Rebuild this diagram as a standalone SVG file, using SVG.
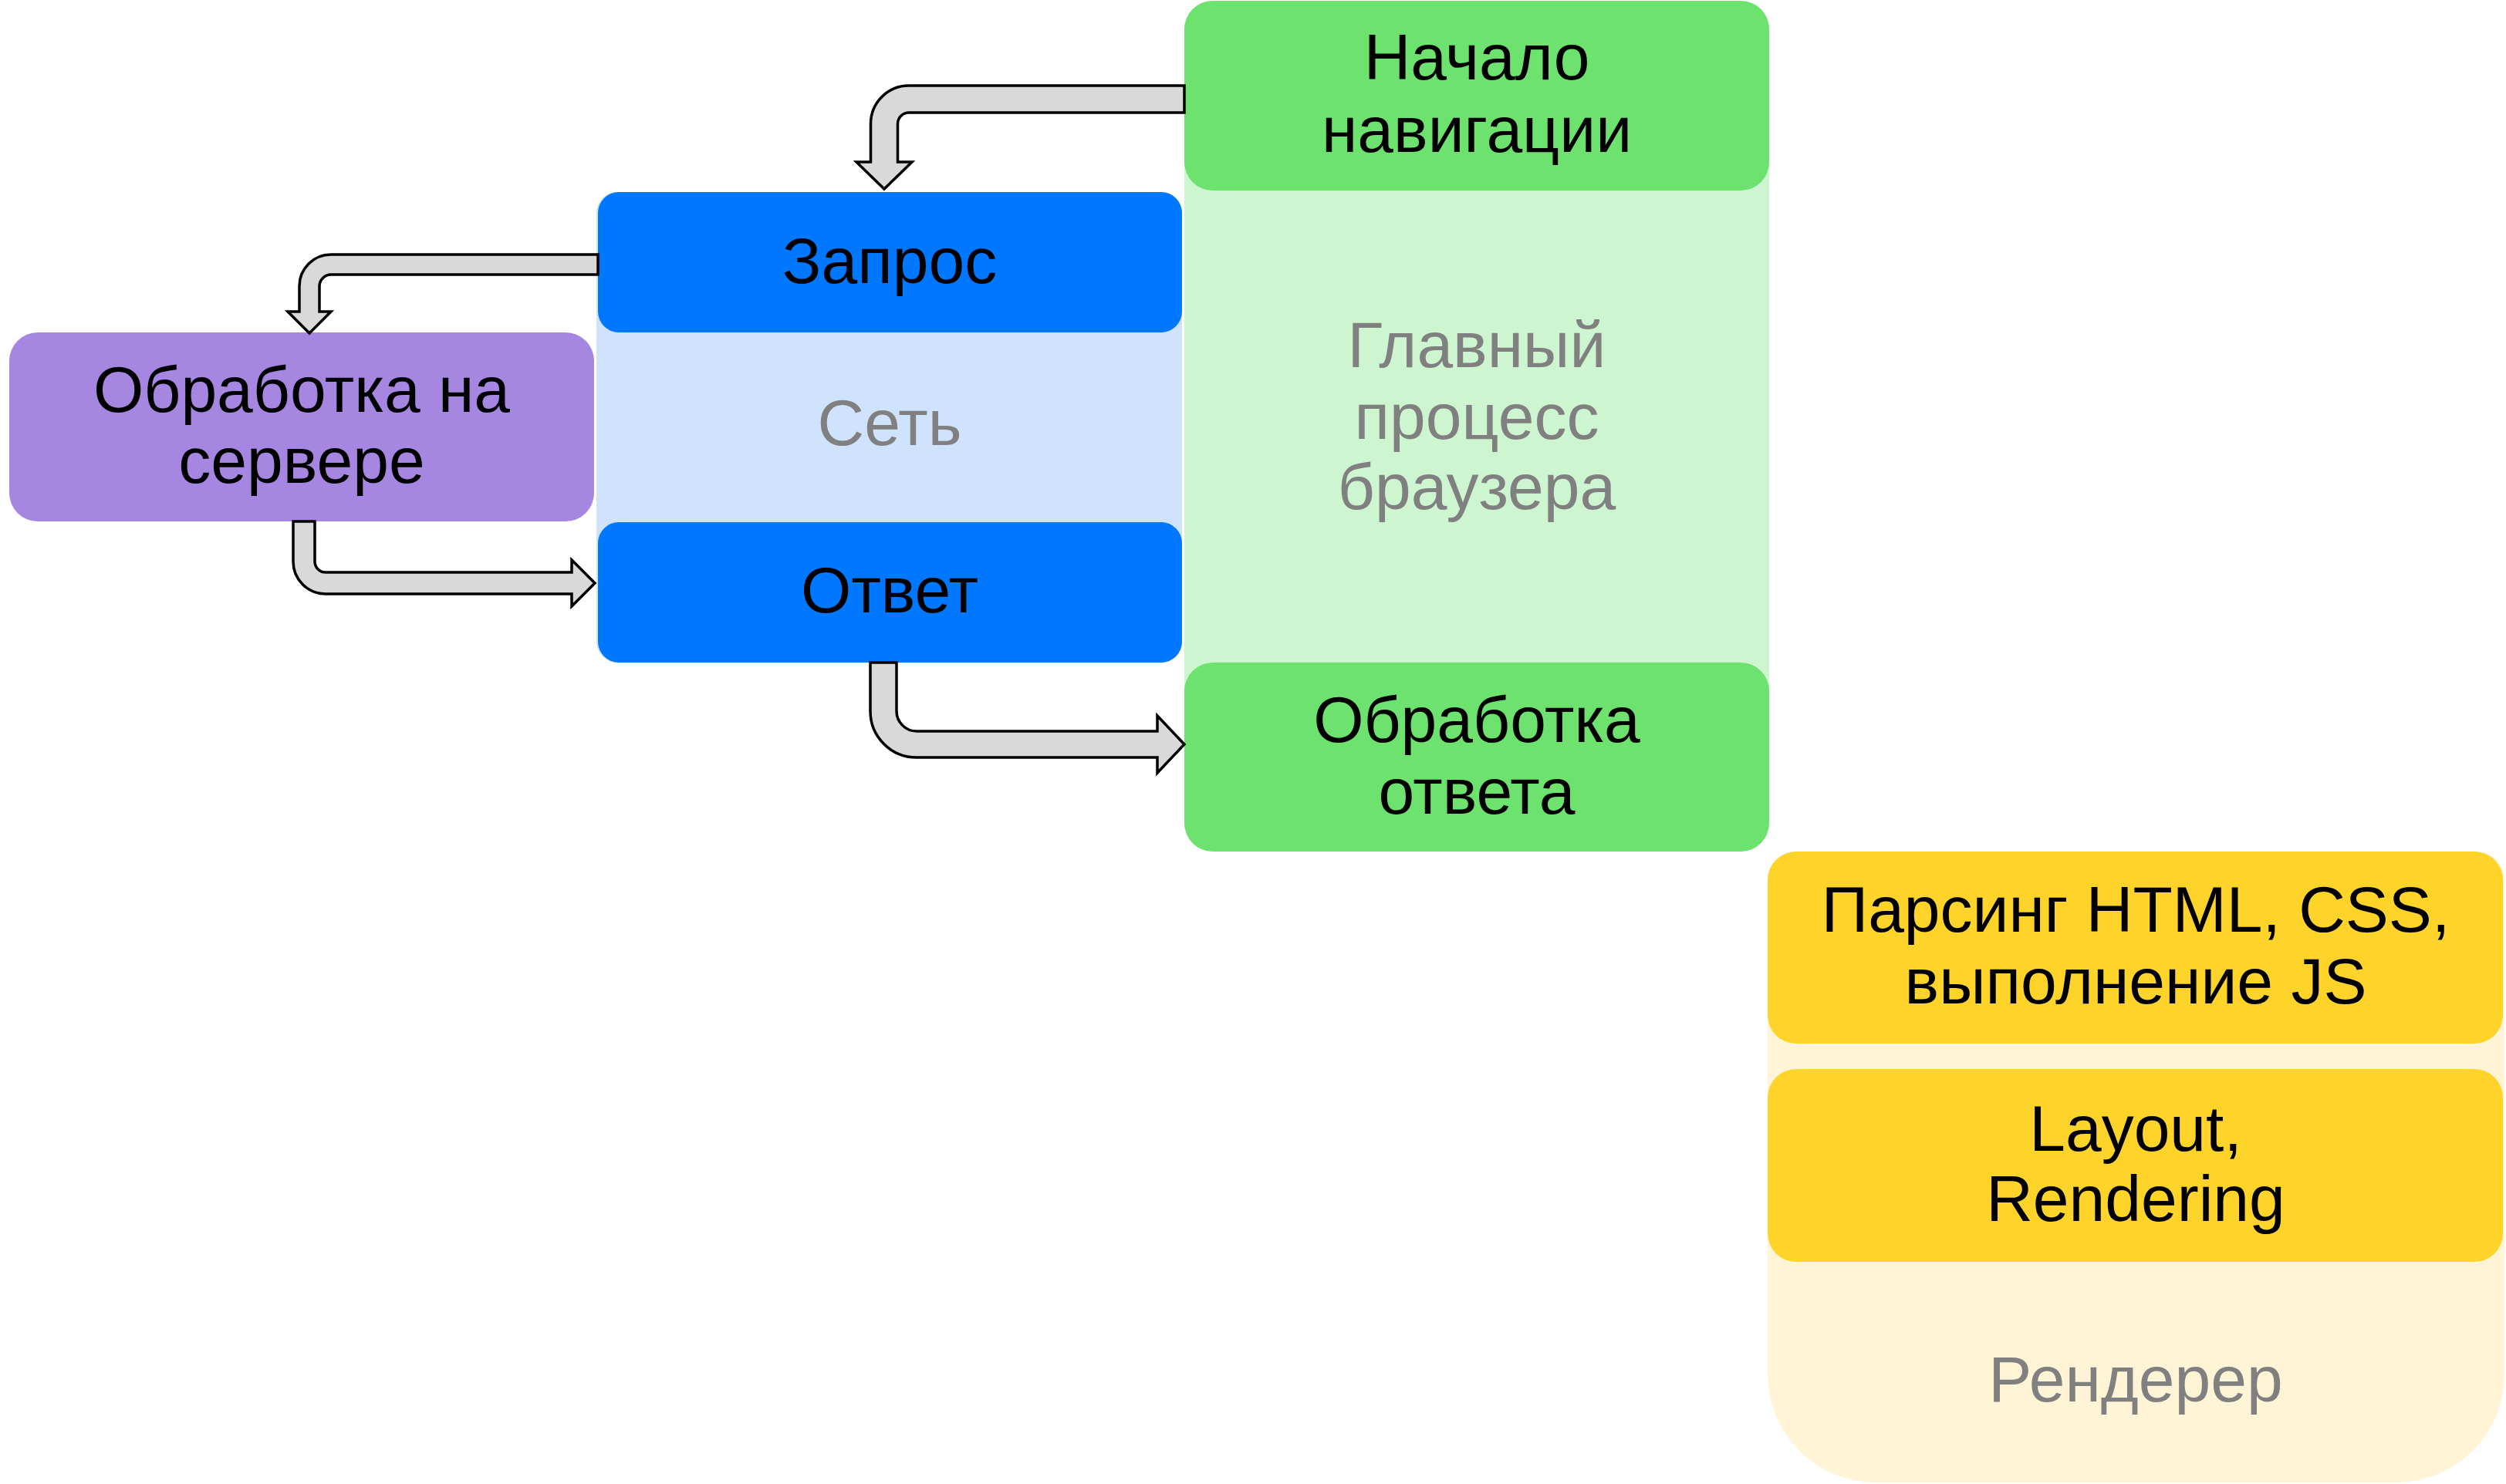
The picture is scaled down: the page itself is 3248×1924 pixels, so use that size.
<svg xmlns="http://www.w3.org/2000/svg" width="3248" height="1924" viewBox="0 0 3248 1924">
  <style>
    .lbl { font-family: "Liberation Sans", Arial, sans-serif; font-size: 84px; text-anchor: middle; fill: #000000; }
    .cap { font-family: "Liberation Sans", Arial, sans-serif; font-size: 84px; text-anchor: middle; fill: #808080; }
    .flow { fill: #D9D9D9; stroke: #000000; stroke-width: 3.5; stroke-linejoin: miter; }
  </style>
  <rect width="3248" height="1924" fill="#FFFFFF"/>

  <!-- lane containers -->
  <g id="lane-network">
    <rect x="773" y="249" width="759" height="610" rx="27" fill="#CFE3FD"/>
    <text class="cap" x="1153" y="577">Сеть</text>
  </g>
  <g id="lane-browser">
    <rect x="1535" y="1" width="758" height="1103" rx="37" fill="#CDF6D0"/>
    <text class="cap" x="1914" y="476">Главный</text>
    <text class="cap" x="1914" y="569">процесс</text>
    <text class="cap" x="1914" y="660">браузера</text>
  </g>
  <g id="lane-renderer">
    <rect x="2291" y="1104" width="955" height="818" rx="140" fill="#FFF5D6"/>
    <rect x="2291" y="1104" width="955" height="200" rx="37" fill="#FFF5D6"/>
    <text class="cap" x="2768" y="1817">Рендерер</text>
  </g>

  <!-- nodes -->
  <g id="node-start">
    <rect x="1535" y="1" width="758" height="246" rx="37" fill="#6DE26F"/>
    <text class="lbl" x="1914" y="103">Начало</text>
    <text class="lbl" x="1914" y="197">навигации</text>
  </g>
  <g id="node-request">
    <rect x="775" y="249" width="757" height="182" rx="27" fill="#0077FF"/>
    <text class="lbl" x="1153" y="367">Запрос</text>
  </g>
  <g id="node-server">
    <rect x="12" y="431" width="758" height="245" rx="37" fill="#A587E1"/>
    <text class="lbl" x="391" y="534">Обработка на</text>
    <text class="lbl" x="391" y="626">сервере</text>
  </g>
  <g id="node-response">
    <rect x="775" y="677" width="757" height="182" rx="27" fill="#0077FF"/>
    <text class="lbl" x="1153" y="794">Ответ</text>
  </g>
  <g id="node-handle">
    <rect x="1535" y="859" width="758" height="245" rx="37" fill="#6DE26F"/>
    <text class="lbl" x="1914" y="962">Обработка</text>
    <text class="lbl" x="1914" y="1055">ответа</text>
  </g>
  <g id="node-parse">
    <rect x="2291" y="1104" width="953" height="249" rx="37" fill="#FED42B"/>
    <text class="lbl" x="2768" y="1208">Парсинг HTML, CSS,</text>
    <text class="lbl" x="2768" y="1301">выполнение JS</text>
  </g>
  <g id="node-layout">
    <rect x="2291" y="1386" width="953" height="250" rx="37" fill="#FED42B"/>
    <text class="lbl" x="2768" y="1492">Layout,</text>
    <text class="lbl" x="2768" y="1583">Rendering</text>
  </g>

  <!-- block-arrow connectors -->
  <g id="connectors">
    <path class="flow" d="M1535,111 L1178,111 A49.5,49.5 0 0 0 1128.5,160.5 L1128.5,210 L1110,210 L1146,245 L1182,210 L1163.5,210 L1163.5,160.5 A14.5,14.5 0 0 1 1178,146 L1535,146 Z"/>
    <path class="flow" d="M775,330 L429,330 A41,41 0 0 0 388,371 L388,404 L373,404 L401,432 L429,404 L414,404 L414,371 A15,15 0 0 1 429,356 L775,356 Z"/>
    <path class="flow" d="M380,676 L380,728 A42,42 0 0 0 422,770 L741,770 L741,786 L771,756 L741,726 L741,742 L422,742 A14,14 0 0 1 408,728 L408,676 Z"/>
    <path class="flow" d="M1128,859 L1128,922 A60,60 0 0 0 1188,982 L1500,982 L1500,1002 L1535,965 L1500,928 L1500,948 L1188,948 A26,26 0 0 1 1162,922 L1162,859 Z"/>
  </g>
</svg>
